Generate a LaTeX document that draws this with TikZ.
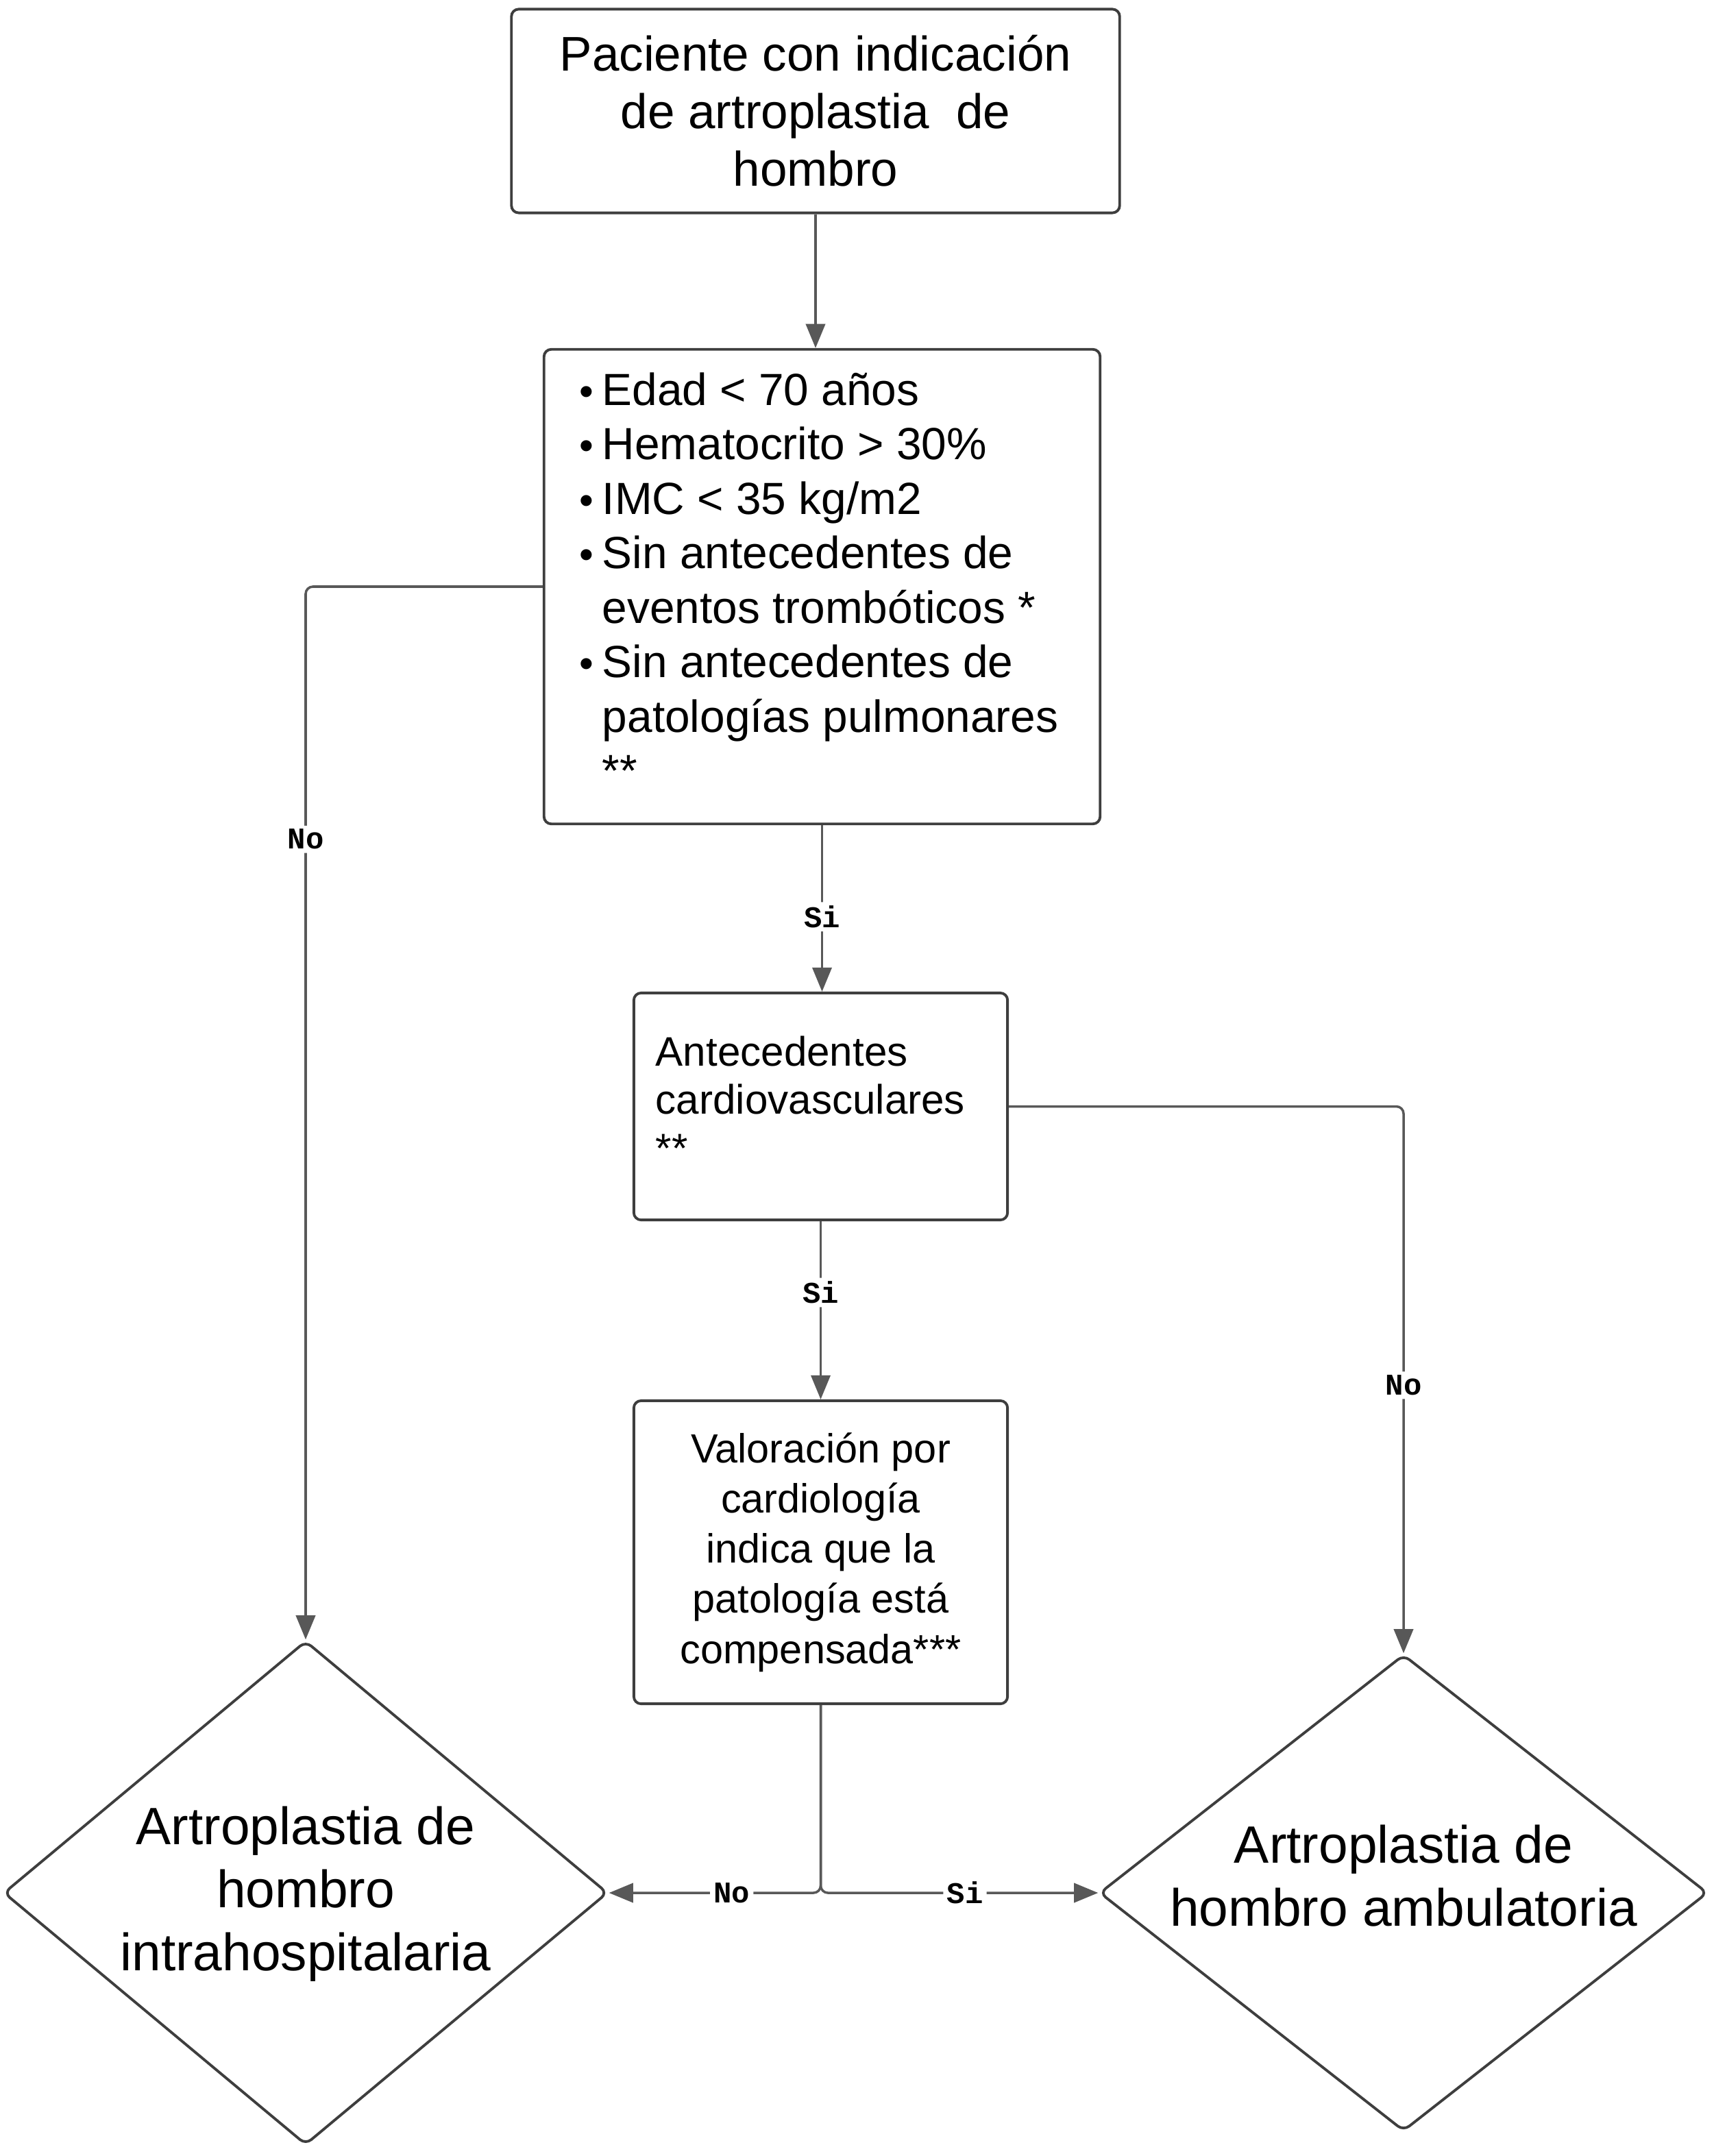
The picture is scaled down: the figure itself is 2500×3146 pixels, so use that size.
\documentclass[tikz,border=0pt]{standalone}
\usepackage{fontspec}
\setmainfont{Liberation Sans}
\setmonofont{Liberation Mono}
\usetikzlibrary{arrows.meta,shapes.geometric}
\definecolor{boxgray}{RGB}{62,62,62}
\definecolor{linegray}{RGB}{88,88,88}
\newcommand{\critem}{\makebox[10pt][l]{\hspace{.5pt}\scalebox{.9}{\textbullet}}}
\newcommand{\critgap}{\hspace*{10pt}}

\begin{document}
\begin{tikzpicture}[x=.01cm,y=-.01cm,
  box/.style={draw=boxgray,line width=1.1pt,rounded corners=3pt,inner sep=0pt},
  choice/.style={diamond,draw=boxgray,line width=1.1pt,rounded corners=3pt,inner sep=0pt},
  choicetext/.style={inner sep=0pt,align=center,font=\fontsize{21.8}{26.2}\selectfont},
  link/.style={draw=linegray,line width=1pt,rounded corners=3pt,-{Triangle[length=10pt,width=8pt]}},
  tag/.style={fill=white,inner sep=1.5pt,text=black,font=\ttfamily\bfseries\fontsize{12.5}{13}\selectfont}]
\useasboundingbox (0,0) rectangle (2500,3146);
\node[box,minimum width=8.87cm,minimum height=2.97cm,align=center,font=\fontsize{20.2}{23.9}\selectfont] (top) at (1190,162) {Paciente con indicación\\de artroplastia\ \ de\\hombro};
\node[box,minimum width=8.11cm,minimum height=6.92cm] (crit) at (1199.5,856) {};
\node[anchor=north west,inner sep=0pt,align=left,font=\fontsize{18.7}{22.6}\selectfont] (critlist) at (843,543) {\critem Edad < 70 años\\\critem Hematocrito > 30\%\\\critem IMC < 35 kg/m2\\\critem Sin antecedentes de\\\critgap eventos trombóticos *\\\critem Sin antecedentes de\\\critgap patologías pulmonares\\\critgap **};
\node[box,minimum width=5.45cm,minimum height=3.31cm] (cardio) at (1197.5,1614.5) {};
\node[inner sep=0pt,text width=4.81cm,align=left,font=\fontsize{17.1}{20}\selectfont] (cardiotxt) at (1197.5,1604) {Antecedentes\\cardiovasculares\\{}**};
\node[box,minimum width=5.45cm,minimum height=4.42cm,align=center,font=\fontsize{16.9}{20.8}\selectfont] (valor) at (1197.5,2265) {Valoración por\\cardiología\\indica que la\\patología está\\compensada***};
\node[choice,minimum width=8.81cm,minimum height=7.35cm] (hosp) at (446,2762) {};
\node[choicetext] (hosptxt) at (446,2764) {Artroplastia de\\hombro\\intrahospitalaria};
\node[choice,minimum width=8.87cm,minimum height=6.95cm] (amb) at (2048,2762) {};
\node[choicetext] (ambtxt) at (2048,2737) {Artroplastia de\\hombro ambulatoria};

\draw[link] (top.south) -- (top.south |- crit.north);
\draw[link] (crit.south) -- node[tag,pos=.55]{Si} (crit.south |- cardio.north);
\draw[link] (cardio.south) -- node[tag,pos=.4]{Si} (valor.north);
\draw[link] (crit.west) -| node[tag,pos=.62]{No} (hosp.north);
\draw[link] (cardio.east) -| node[tag,pos=.755]{No} (amb.north);
\draw[link] (valor.south) |- node[tag,pos=.71]{No} (hosp.east);
\draw[link] (valor.south) |- node[tag,pos=.76]{Si} (amb.west);
\end{tikzpicture}
\end{document}
